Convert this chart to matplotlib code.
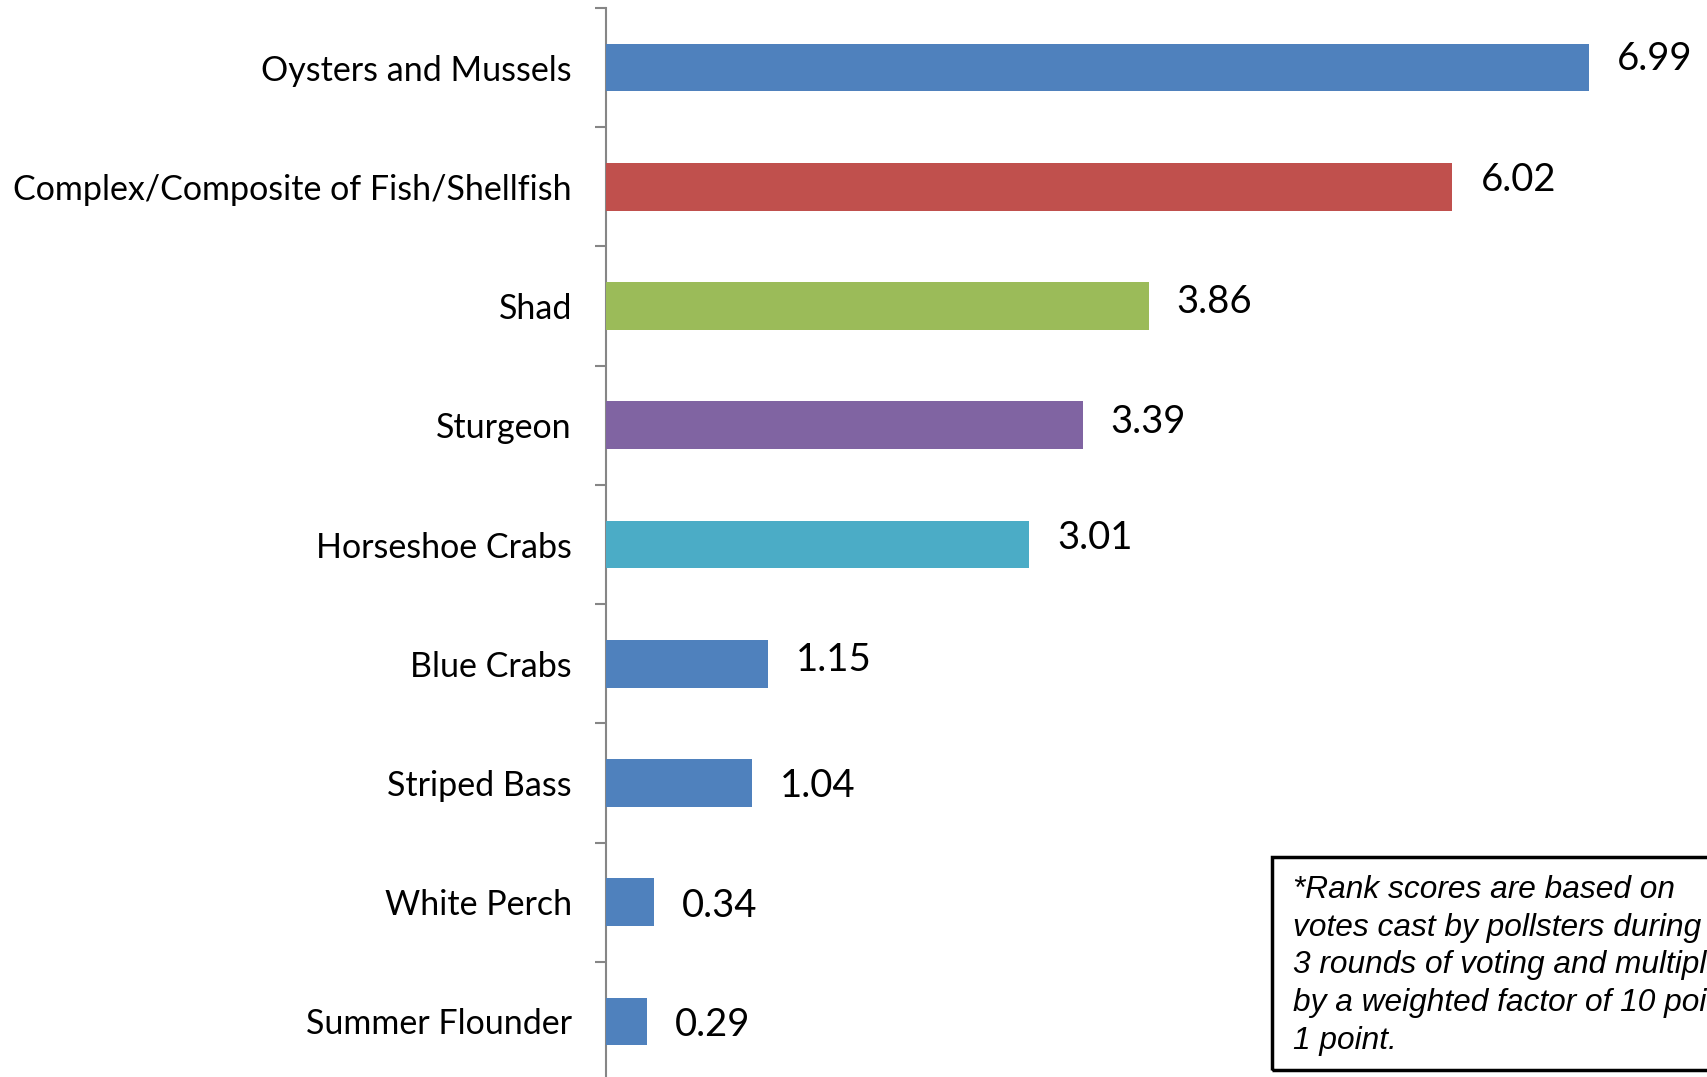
import matplotlib
matplotlib.use("Agg")
import matplotlib.pyplot as plt
from matplotlib.patches import Rectangle

categories = ["Oysters and Mussels", "Complex/Composite of Fish/Shellfish", "Shad",
              "Sturgeon", "Horseshoe Crabs", "Blue Crabs", "Striped Bass",
              "White Perch", "Summer Flounder"]
values = [6.99, 6.02, 3.86, 3.39, 3.01, 1.15, 1.04, 0.34, 0.29]
value_labels = ["6.99", "6.02", "3.86", "3.39", "3.01", "1.15", "1.04", "0.34", "0.29"]
colors = ["#4F81BD", "#C0504D", "#9BBB59", "#8064A2", "#4BACC6",
          "#4F81BD", "#4F81BD", "#4F81BD", "#4F81BD"]
note = ("*Rank scores are based on\n"
        "votes cast by pollsters during\n"
        "3 rounds of voting and multiplied\n"
        "by a weighted factor of 10 points to\n"
        "1 point.")

# vertical nudges of the value labels (points), as placed in the original
label_nudge = [6.3, 4.7, 3.1, 2.4, 4.7, 2.4, -2.4, -3.1, -2.4]

W, H = 1708, 1077
fig = plt.figure(figsize=(W / 100, H / 100), dpi=100)

ax_left = 606
ax_top = 8
ax_bottom = 1081
px_per_unit = 140.6
ax = fig.add_axes([ax_left / W, 1 - ax_bottom / H, (W - ax_left) / W, (ax_bottom - ax_top) / H])

n = len(categories)
pos = list(range(n))
ax.barh(pos, values, height=0.40, color=colors, zorder=3)
ax.set_ylim(n - 0.5, -0.5)
ax.set_xlim(0, (W - ax_left) / px_per_unit)

for p, v, lab, dy in zip(pos, values, value_labels, label_nudge):
    ax.annotate(lab, (v, p), xytext=(28 * 0.72, dy), textcoords="offset points",
                ha="left", va="center", fontsize=27.5, family="Lato", color="black")

for s in ["top", "right", "bottom"]:
    ax.spines[s].set_visible(False)
ax.spines["left"].set_color("#868686")
ax.spines["left"].set_linewidth(1.5)
ax.set_xticks([])
ax.set_yticks(pos)
ax.set_yticklabels(categories, fontsize=24.5, family="Lato")
ax.tick_params(axis="y", which="major", length=0, pad=34 * 0.72)
ax.set_yticks([p - 0.5 for p in range(n + 1)], minor=True)
ax.tick_params(axis="y", which="minor", length=8, width=1.5, color="#868686")

# note box
bx0, by0, by1 = 1272, 857, 1070
fig.patches.append(Rectangle((bx0 / W, 1 - by1 / H), (W + 20 - bx0) / W, (by1 - by0) / H,
                             transform=fig.transFigure, fill=False, edgecolor="black",
                             linewidth=2.5, zorder=5))
fig.text(1293 / W, 1 - 875 / H, note, ha="left", va="top", fontsize=22.8,
         family="Liberation Sans", style="italic", linespacing=1.335)

fig.savefig("out.png", dpi=100)
